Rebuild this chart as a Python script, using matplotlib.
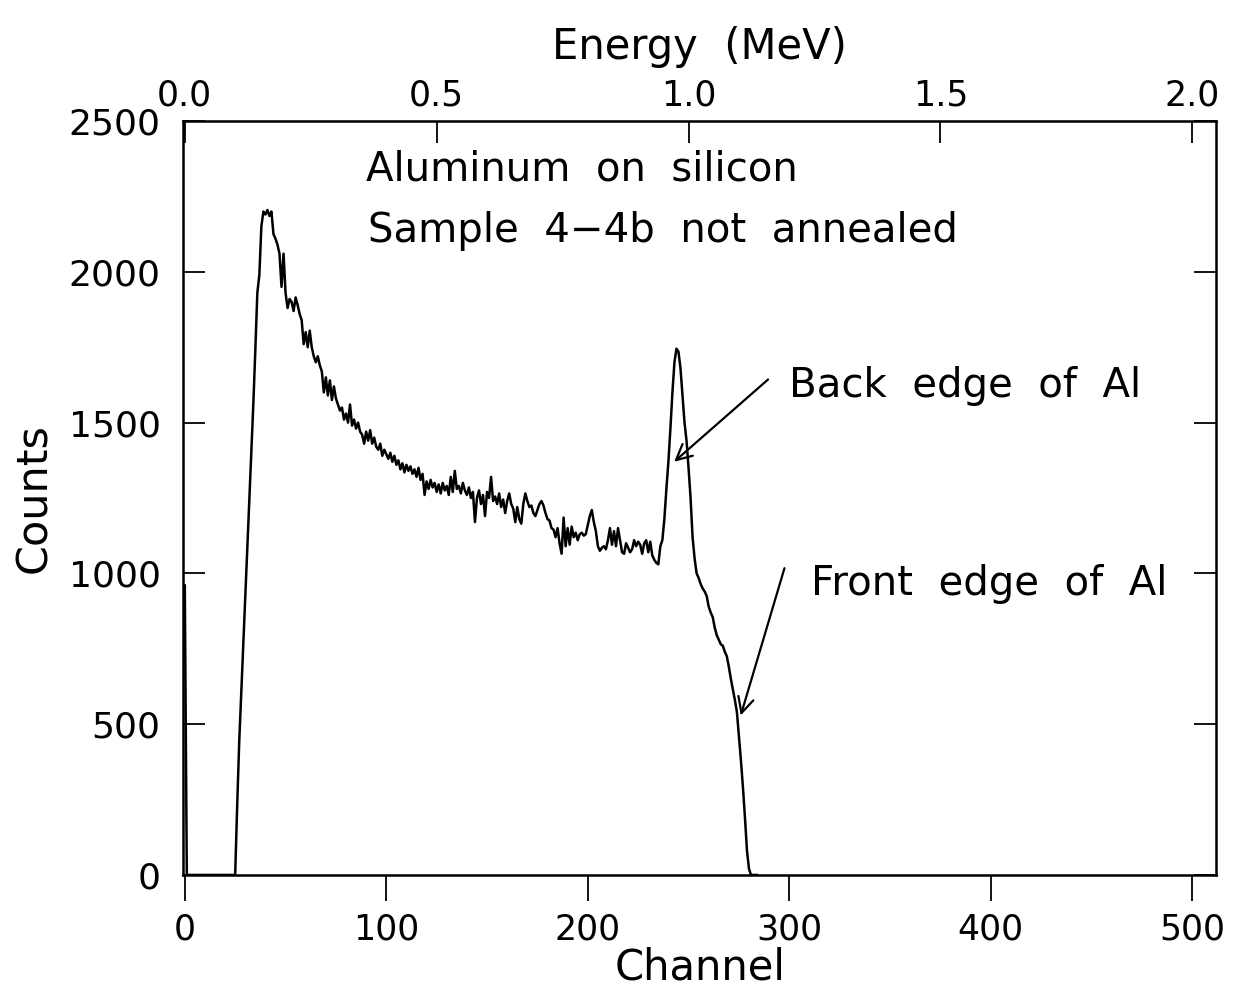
import matplotlib
matplotlib.use("Agg")
import matplotlib.pyplot as plt

# RBS spectrum, Al on Si, sample 4-4b
channel_start = 0
counts = [
    960, 0, 0, 0, 0, 0, 0, 0, 0, 0,
    0, 0, 0, 0, 0, 0, 0, 0, 0, 0,
    0, 0, 0, 0, 0, 0, 230, 440, 600, 760,
    920, 1080, 1240, 1400, 1560, 1740, 1930, 1990, 2150, 2200,
    2190, 2205, 2185, 2200, 2125, 2110, 2090, 2060, 1950, 2060,
    1930, 1880, 1910, 1900, 1870, 1915, 1890, 1860, 1840, 1760,
    1800, 1750, 1805, 1750, 1720, 1700, 1720, 1690, 1670, 1600,
    1650, 1590, 1640, 1575, 1620, 1580, 1560, 1540, 1550, 1510,
    1530, 1500, 1560, 1490, 1510, 1480, 1500, 1470, 1460, 1430,
    1470, 1440, 1475, 1430, 1450, 1420, 1410, 1430, 1390, 1410,
    1395, 1380, 1400, 1370, 1390, 1360, 1375, 1345, 1365, 1335,
    1360, 1340, 1355, 1330, 1345, 1320, 1350, 1310, 1330, 1260,
    1305, 1280, 1310, 1285, 1300, 1270, 1295, 1265, 1300, 1275,
    1290, 1260, 1320, 1270, 1340, 1280, 1290, 1265, 1300, 1275,
    1260, 1285, 1250, 1270, 1170, 1250, 1275, 1230, 1260, 1190,
    1270, 1250, 1320, 1240, 1255, 1230, 1265, 1220, 1245, 1200,
    1240, 1265, 1230, 1215, 1170, 1220, 1180, 1165, 1230, 1265,
    1240, 1220, 1225, 1200, 1190, 1210, 1230, 1240, 1225, 1200,
    1180, 1175, 1150, 1145, 1120, 1150, 1100, 1065, 1185, 1090,
    1150, 1095, 1155, 1120, 1135, 1110, 1130, 1135, 1125, 1130,
    1160, 1190, 1210, 1170, 1140, 1090, 1075, 1085, 1090, 1080,
    1110, 1150, 1095, 1140, 1090, 1150, 1110, 1070, 1065, 1100,
    1085, 1070, 1080, 1110, 1090, 1105, 1095, 1065, 1100, 1110,
    1070, 1105, 1060, 1045, 1035, 1030, 1090, 1110, 1180, 1280,
    1370, 1480, 1600, 1700, 1745, 1735, 1680, 1590, 1500, 1440,
    1350, 1250, 1120, 1050, 1000, 985, 965, 950, 940, 925,
    890, 870, 855, 820, 795, 780, 765, 760, 740, 725,
    690, 650, 615, 580, 540, 460, 380, 290, 190, 80,
    20, 0, 0, 0, 0,
]
channels = list(range(channel_start, channel_start + len(counts)))

x_ticks = [0, 100, 200, 300, 400, 500]
y_ticks = [0, 500, 1000, 1500, 2000, 2500]
e_ticks = [0.0, 0.5, 1.0, 1.5, 2.0]
ch_per_mev = 250.0

fig = plt.figure(figsize=(12.35, 9.92), dpi=100)
ax = fig.add_axes([0.148, 0.118, 0.837, 0.760])

ax.plot(channels, counts, color="black", lw=1.8)

ax.set_xlim(-1, 512)
ax.set_ylim(0, 2500)
ax.set_xticks(x_ticks)
ax.set_yticks(y_ticks)

for s in ax.spines.values():
    s.set_linewidth(1.8)

ax.tick_params(axis="x", direction="out", length=19, width=1.3, labelsize=25, pad=8)
ax.tick_params(axis="y", direction="in", length=16, width=1.3, labelsize=26, pad=16,
               right=True)
ax.set_xlabel("Channel", fontsize=30, labelpad=0)
ax.set_ylabel("Counts", fontsize=31, labelpad=10)

# top energy scale
top = ax.secondary_xaxis("top", functions=(lambda c: c / ch_per_mev,
                                            lambda e: e * ch_per_mev))
top.set_xticks(e_ticks)
top.set_xticklabels(["%.1f" % e for e in e_ticks])
top.tick_params(direction="in", length=16, width=1.3, labelsize=25, pad=6)
top.set_xlabel("Energy  (MeV)", fontsize=30, labelpad=14)

ax.text(90, 2340, "Aluminum  on  silicon", fontsize=29, va="center")
ax.text(91, 2135, "Sample  4\u22124b  not  annealed", fontsize=29, va="center")
ax.text(300, 1620, "Back  edge  of  Al", fontsize=29, va="center")
ax.text(311, 965, "Front  edge  of  Al", fontsize=29, va="center")

ax.annotate("", xy=(241.8, 1364), xytext=(290.5, 1649),
            arrowprops=dict(arrowstyle="->", color="black", lw=1.6,
                            mutation_scale=28))
ax.annotate("", xy=(275.5, 520), xytext=(298, 1026),
            arrowprops=dict(arrowstyle="->", color="black", lw=1.6,
                            mutation_scale=28))

fig.savefig("out.png", dpi=100)
